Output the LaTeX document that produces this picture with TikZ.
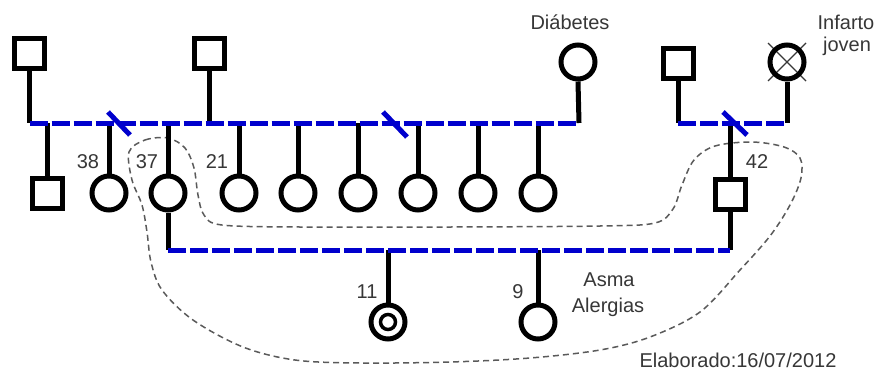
\documentclass[tikz,border=0pt]{standalone}
\usepackage{fontspec}
\setmainfont{Liberation Sans}
\definecolor{pedblue}{RGB}{0,0,205}
\definecolor{txtgray}{RGB}{55,55,55}
\definecolor{loopgray}{RGB}{90,90,90}
\begin{document}
\begin{tikzpicture}[x=1pt,y=-1pt,
  male/.style={draw=black, rectangle, line width=5pt, minimum size=30pt, inner sep=0pt},
  female/.style={draw=black, circle, line width=5pt, minimum size=34pt, inner sep=0pt},
  stem/.style={draw=black, line width=5pt},
  union/.style={draw=pedblue, line width=5pt, dash pattern=on 18pt off 4pt},
  divorce/.style={draw=pedblue, line width=5pt},
  household/.style={draw=loopgray, line width=1.5pt, dash pattern=on 6pt off 4pt},
  lbl/.style={text=txtgray, inner sep=0pt, font=\fontsize{20}{23}\selectfont}]
\useasboundingbox (0,0) rectangle (880,375);
\fill[white] (0,0) rectangle (880,375);

% household boundary
\draw[household] plot[smooth cycle, tension=0.55] coordinates {
  (129,152) (145,140) (168,138) (185,148) (194,168) (198,195) (204,215)
  (222,225) (300,227) (450,227) (600,226) (655,223) (673,209) (682,185)
  (694,160) (715,146) (752,142) (784,147) (800,158) (801,178) (790,205)
  (770,236) (740,270) (700,312) (650,337) (600,350) (530,358) (450,362)
  (360,363) (295,360) (243,347) (193,320) (162,290) (151,262) (147,232)
  (142,205) (132,180)};

% first generation
\node[male] (gfa) at (29.5,53.5) {};
\node[male] (gfb) at (209,53.5) {};
\node[female] (gma) at (578,62) {};
\node[male] (gfc) at (678,63) {};
\draw[line width=1.3pt, draw=txtgray] (768,43) -- (806,81) (768,81) -- (806,43);
\node[female] (gmc) at (787,62) {};

% union points
\coordinate (ua) at (29.5,123);
\coordinate (ub) at (579,123);
\coordinate (uc) at (678,123);
\coordinate (ud) at (787,123);

% second generation
\node[male]   (s1) at (47,193) {};
\node[female] (s2) at (109,193) {};
\node[female] (s3) at (168,193) {};
\node[female] (s4) at (239,193) {};
\node[female] (s5) at (298,193) {};
\node[female] (s6) at (358,193) {};
\node[female] (s7) at (418,193) {};
\node[female] (s8) at (478,193) {};
\node[female] (s9) at (538,193) {};
\node[male]   (hb) at (730,194) {};

% second union
\coordinate (va) at (168,250);
\coordinate (vb) at (730,250);

% third generation
\node[female] (g1) at (388,322) {};
\draw[line width=3.5pt] (g1.center) circle[radius=7.5pt];
\node[female] (g2) at (538,322) {};

% stems
\draw[stem] (gfa.south) -- (ua);
\draw[stem] (gfb.south) -- (gfb.south |- ua);
\draw[stem] (gma.south) -- (ub);
\draw[stem] (gfc.south) -- (uc);
\draw[stem] (gmc.south) -- (ud);
\foreach \c in {s1,s2,s3,s4,s5,s6,s7,s8,s9}
  \draw[stem] (\c |- ua) -- (\c.north);
\draw[stem] (hb |- uc) -- (hb.north);
\draw[stem] (s3.south) -- (va);
\draw[stem] (hb.south) -- (vb);
\draw[stem] (g1 |- va) -- (g1.north);
\draw[stem] (g2 |- va) -- (g2.north);

% unions
\draw[union] (ua) -- (ub);
\draw[union] (uc) -- (ud);
\draw[union] (va) -- (vb);
\draw[divorce] (108,112) -- (130,135);
\draw[divorce] (383,112) -- (407,137);
\draw[divorce] (723,112) -- (747,135);

% labels
\node[lbl] (tdia) at (570,22) {Diábetes};
\node[lbl] (tinf) at (846,22) {Infarto};
\node[lbl] (tjov) at (847,46) {joven};
\node[lbl] (t38) at (88,162) {38};
\node[lbl] (t37) at (147,162) {37};
\node[lbl] (t21) at (217,162) {21};
\node[lbl] (t42) at (757,162) {42};
\node[lbl] (t11) at (367,292) {11};
\node[lbl] (t9) at (518,292) {9};
\node[lbl] (tasm) at (609,280) {Asma};
\node[lbl] (tale) at (608,307) {Alergias};
\node[lbl] (telab) at (738,360) {Elaborado:16/07/2012};
\end{tikzpicture}
\end{document}
